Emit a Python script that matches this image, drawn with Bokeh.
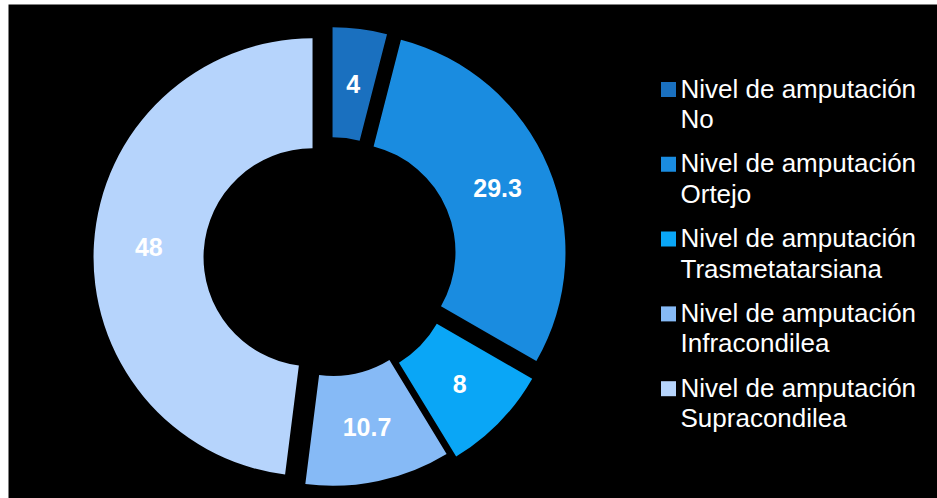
import numpy as np
from bokeh.plotting import figure
from bokeh.models import Range1d, ColumnDataSource
from bokeh.core.properties import value
from bokeh.embed import file_html
from bokeh.resources import INLINE

# ---- data ----
categories = ["No", "Ortejo", "Trasmetatarsiana", "Infracondilea", "Supracondilea"]
legend_prefix = "Nivel de amputación"
values = [4, 29.3, 8, 10.7, 48]

# ---- styles ----
colors = ["#1a70bf", "#1a8ce0", "#0aa6f6", "#86baf6", "#b6d4fc"]
explode = [12.3, 16.8, 15.8, 8.5, 18.5]  # px offsets of each slice
W, H = 937, 498
CX, CY = 330.5, 258.0  # screen px
R_OUT, R_IN = 219.0, 109.0

p = figure(width=W, height=H, output_backend="svg", toolbar_location=None,
           x_range=Range1d(8, W), y_range=Range1d(0, H - 4),
           min_border_left=8, min_border_top=4, min_border_right=0, min_border_bottom=0,
           border_fill_color="white", background_fill_color="black",
           outline_line_color=None)
p.axis.visible = False
p.grid.visible = False

def sy(y):
    return H - y

vals = np.array(values, dtype=float)
frac = vals / vals.sum()
cum = np.concatenate([[0], np.cumsum(frac)]) * 360.0  # clockwise from top, degrees
t1 = cum[:-1]
t2 = cum[1:]
tm = (t1 + t2) / 2
ex = np.array(explode)
cxs = CX + ex * np.sin(np.radians(tm))
cys = sy(CY) + ex * np.cos(np.radians(tm))

src = ColumnDataSource(dict(
    x=cxs, y=cys,
    start=np.radians(90 - t1), end=np.radians(90 - t2),
    color=colors,
))
p.annular_wedge(x="x", y="y", inner_radius=R_IN, outer_radius=R_OUT,
                start_angle="start", end_angle="end", direction="clock",
                fill_color="color", line_color=None, source=src)

rmid = (R_IN + R_OUT) / 2
lab = ColumnDataSource(dict(
    x=cxs + rmid * np.sin(np.radians(tm)),
    y=cys + rmid * np.cos(np.radians(tm)),
    t=["%g" % v for v in values],
))
p.text(x="x", y="y", text="t", source=lab, text_color="white",
       text_font=value("Liberation Sans"), text_font_style="bold",
       text_font_size="25px", text_align="center", text_baseline="middle")

# ---- legend ----
n = len(categories)
idx = np.arange(n)
sq_y = sy(89 + 74.8 * idx)
p.rect(x=[668] * n, y=sq_y, width=15, height=15, fill_color=colors, line_color=None)
p.text(x=[680] * n, y=sy(88 + 74.8 * idx), text=[legend_prefix] * n,
       text_color="white", text_font=value("Liberation Sans"), text_font_size="26px",
       text_align="left", text_baseline="alphabetic")
p.text(x=[680] * n, y=sy(118.5 + 74.8 * idx), text=categories,
       text_color="white", text_font=value("Liberation Sans"), text_font_size="26px",
       text_align="left", text_baseline="alphabetic")

open("out.html", "w").write(file_html(p, INLINE))
